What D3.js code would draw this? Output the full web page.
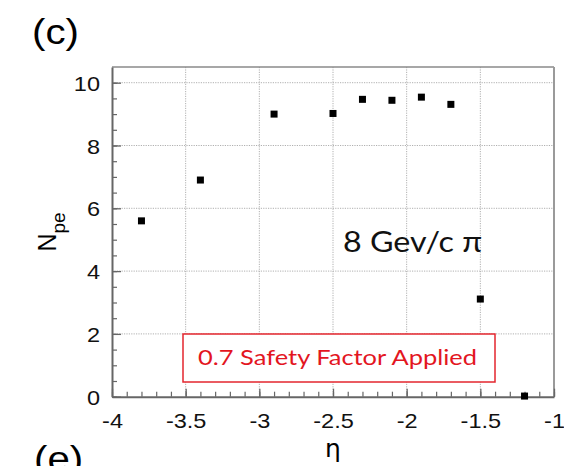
<!DOCTYPE html>
<html>
<head>
<meta charset="utf-8">
<script src="https://cdn.jsdelivr.net/npm/d3@7"></script>
<style>
  html, body { margin: 0; padding: 0; background: #fff; }
  svg { display: block; }
</style>
</head>
<body>
<svg id="chart" width="564" height="466"></svg>
<script>
// Photoelectron yield versus pseudorapidity
const etaValues = [-3.8, -3.4, -2.9, -2.5, -2.3, -2.1, -1.9, -1.7, -1.5, -1.2];
const npeValues = [5.6, 6.9, 9.0, 9.02, 9.47, 9.44, 9.54, 9.31, 3.11, 0.02];
const xTickValues = [-4, -3.5, -3, -2.5, -2, -1.5, -1];
const yTickValues = [0, 2, 4, 6, 8, 10];
const xMinorValues = d3.range(-40, -9, 1).map(d => d / 10);
const yMinorValues = d3.range(0, 21, 1).map(d => d / 2);

const svg = d3.select("#chart");
const plot = { left: 112, right: 554, top: 67, bottom: 396.7 };

const x = d3.scaleLinear().domain([-4, -1]).range([plot.left, plot.right]);
const y = d3.scaleLinear().domain([0, 10.5]).range([plot.bottom, plot.top]);

const sansFont = "'Liberation Sans', Arial, sans-serif";
const softFont = "Lato, 'Open Sans', sans-serif";
const plainNumber = d => String(d);

// widen text slightly, as the figure's lettering is drawn a bit broad
function widen(sel, f) {
  sel.each(function () {
    const w = this.getComputedTextLength();
    d3.select(this).attr("textLength", w * f).attr("lengthAdjust", "spacingAndGlyphs");
  });
}

// dotted grid
const grid = svg.append("g").attr("stroke", "#b0b0b0").attr("stroke-width", 1)
  .attr("stroke-dasharray", "1.2,1.2");
grid.selectAll("line.gx").data(xTickValues.filter(d => d > -4 && d < -1)).join("line")
  .attr("x1", d => x(d)).attr("x2", d => x(d))
  .attr("y1", plot.top).attr("y2", plot.bottom);
grid.selectAll("line.gy").data(yTickValues.filter(d => d > 0)).join("line")
  .attr("x1", plot.left).attr("x2", plot.right)
  .attr("y1", d => y(d)).attr("y2", d => y(d));

// frame: top and right
svg.append("line").attr("x1", plot.left).attr("x2", plot.right)
  .attr("y1", plot.top).attr("y2", plot.top)
  .attr("stroke", "#8a8a8a").attr("stroke-width", 1.5);
svg.append("line").attr("x1", plot.right).attr("x2", plot.right)
  .attr("y1", plot.top).attr("y2", plot.bottom)
  .attr("stroke", "#9a9a9a").attr("stroke-width", 2);

// bottom axis, minor then major ticks (inward)
svg.append("g").attr("transform", `translate(0,${plot.bottom})`)
  .call(d3.axisBottom(x).tickValues(xMinorValues).tickSize(-5).tickSizeOuter(0).tickFormat(""))
  .call(g => g.select(".domain").remove())
  .call(g => g.selectAll("line").attr("stroke", "#666").attr("stroke-width", 1.2));

const xAxis = svg.append("g").attr("transform", `translate(0,${plot.bottom})`)
  .call(d3.axisBottom(x).tickValues(xTickValues).tickSize(-8).tickSizeOuter(0)
    .tickFormat(plainNumber));
xAxis.select(".domain").attr("stroke", "#666").attr("stroke-width", 2);
xAxis.selectAll("line").attr("stroke", "#666").attr("stroke-width", 1.3);
xAxis.selectAll("text")
  .attr("y", 31).attr("dy", null)
  .attr("font-family", sansFont).attr("font-size", 21).attr("fill", "#111")
  .call(widen, 1.12);

// left axis
svg.append("g").attr("transform", `translate(${plot.left},0)`)
  .call(d3.axisLeft(y).tickValues(yMinorValues).tickSize(-5).tickSizeOuter(0).tickFormat(""))
  .call(g => g.select(".domain").remove())
  .call(g => g.selectAll("line").attr("stroke", "#666").attr("stroke-width", 1.2));

const yAxis = svg.append("g").attr("transform", `translate(${plot.left},0)`)
  .call(d3.axisLeft(y).tickValues(yTickValues).tickSize(-9).tickSizeOuter(0)
    .tickFormat(plainNumber));
yAxis.select(".domain").attr("stroke", "#666").attr("stroke-width", 2);
yAxis.selectAll("line").attr("stroke", "#666").attr("stroke-width", 1.3);
yAxis.selectAll("text")
  .attr("x", -12).attr("dy", "0.36em")
  .attr("font-family", sansFont).attr("font-size", 21).attr("fill", "#111")
  .call(widen, 1.12);

// data markers
svg.append("g").selectAll("rect").data(etaValues.map((e, i) => [e, npeValues[i]])).join("rect")
  .attr("x", d => x(d[0]) - 3.5).attr("y", d => y(d[1]) - 3.5)
  .attr("width", 7).attr("height", 7).attr("fill", "#000");

// axis titles
const yTitle = svg.append("text")
  .attr("transform", "translate(56,232) rotate(-90)")
  .attr("text-anchor", "middle")
  .attr("font-family", sansFont).attr("fill", "#000");
yTitle.append("tspan").attr("font-size", 25).text("N");
yTitle.append("tspan").attr("font-size", 19).attr("dy", 9).text("pe");

svg.append("text").attr("x", x(-2.5)).attr("y", 457)
  .attr("text-anchor", "middle").attr("font-family", "'DejaVu Sans', sans-serif")
  .attr("font-size", 25).attr("fill", "#000").text("η");

// panel letters
svg.append("text").attr("x", 32).attr("y", 44)
  .attr("font-family", sansFont).attr("font-size", 35).attr("fill", "#000")
  .text("(c)").call(widen, 1.15);
svg.append("text").attr("x", 34).attr("y", 471)
  .attr("font-family", sansFont).attr("font-size", 35).attr("fill", "#000")
  .text("(e)").call(widen, 1.15);

// beam annotation
svg.append("text").attr("x", 343).attr("y", 252)
  .attr("font-family", softFont).attr("font-size", 28).attr("fill", "#111")
  .text("8 Gev/c π")
  .attr("textLength", 139).attr("lengthAdjust", "spacingAndGlyphs");

// safety-factor note
svg.append("rect").attr("x", 183).attr("y", 334).attr("width", 312).attr("height", 48)
  .attr("fill", "#fff").attr("stroke", "#e3262e").attr("stroke-width", 1.5);
svg.append("text").attr("x", 198).attr("y", 365)
  .attr("font-family", softFont).attr("font-size", 21).attr("fill", "#e3161f")
  .text("0.7 Safety Factor Applied")
  .attr("textLength", 279).attr("lengthAdjust", "spacingAndGlyphs");
</script>
</body>
</html>
